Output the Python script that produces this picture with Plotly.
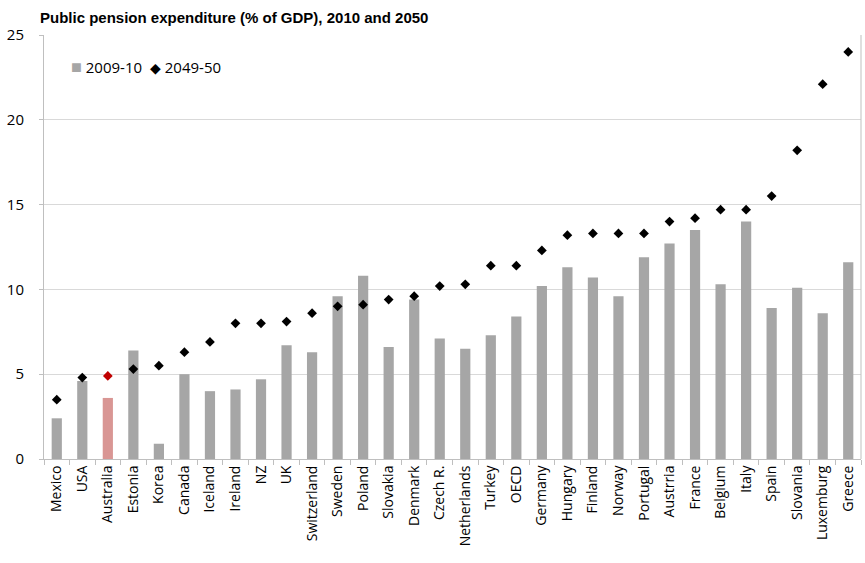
import plotly.graph_objects as go

# Countries ordered by projected 2049-50 spending
countries = ["Mexico", "USA", "Australia", "Estonia", "Korea", "Canada", "Iceland",
             "Ireland", "NZ", "UK", "Switzerland", "Sweden", "Poland", "Slovakia",
             "Denmark", "Czech R.", "Netherlands", "Turkey", "OECD", "Germany",
             "Hungary", "Finland", "Norway", "Portugal", "Austrria", "France",
             "Belgium", "Italy", "Spain", "Slovania", "Luxemburg", "Greece"]

# Public pension expenditure, % of GDP
spend_2010 = [2.4, 4.6, 3.6, 6.4, 0.9, 5.0, 4.0, 4.1, 4.7, 6.7, 6.3, 9.6, 10.8, 6.6,
              9.4, 7.1, 6.5, 7.3, 8.4, 10.2, 11.3, 10.7, 9.6, 11.9, 12.7, 13.5,
              10.3, 14.0, 8.9, 10.1, 8.6, 11.6]
spend_2050 = [3.5, 4.8, 4.9, 5.3, 5.5, 6.3, 6.9, 8.0, 8.0, 8.1, 8.6, 9.0, 9.1, 9.4,
              9.6, 10.2, 10.3, 11.4, 11.4, 12.3, 13.2, 13.3, 13.3, 13.3, 14.0, 14.2,
              14.7, 14.7, 15.5, 18.2, 22.1, 24.0]

series_names = ["2009-10", "2049-50"]

highlight = "Australia"
bar_grey = "#a6a6a6"
bar_colors = ["#d99694" if c == highlight else bar_grey for c in countries]
dot_colors = ["#c00000" if c == highlight else "#000000" for c in countries]

fig = go.Figure()
fig.add_trace(go.Bar(
    x=countries, y=spend_2010, name=series_names[0],
    marker=dict(color=bar_colors, line=dict(width=0)),
))
fig.add_trace(go.Scatter(
    x=countries, y=spend_2050, name=series_names[1], mode="markers",
    marker=dict(symbol="diamond", size=7.5, color=dot_colors, line=dict(width=0)),
))

axis_grey = "#bfbfbf"
label_font = "Open Sans"
fig.update_layout(
    width=865, height=563,
    margin=dict(l=44, r=4, t=35, b=104),
    paper_bgcolor="white", plot_bgcolor="white",
    bargap=0.6,
    showlegend=False,
    title=dict(
        text="<b>Public pension expenditure (% of GDP), 2010 and 2050</b>",
        x=40 / 865, xanchor="left", y=1 - 18 / 563, yanchor="middle",
        font=dict(family="Liberation Sans, Arial", size=15, color="black"),
    ),
    xaxis=dict(
        type="category", tickangle=-90, range=[-0.5, len(countries) - 0.5],
        tickfont=dict(family=label_font, size=14, color="black"),
        showline=True, linecolor=axis_grey, linewidth=1,
        ticks="outside", tickson="boundaries", ticklen=5, tickcolor=axis_grey,
        showgrid=False, automargin=False,
    ),
    yaxis=dict(
        range=[0, 25], dtick=5,
        tickfont=dict(family=label_font, size=15, color="black"),
        showline=True, linecolor=axis_grey, linewidth=1,
        ticks="outside", ticklen=4, tickcolor=axis_grey, ticklabelstandoff=12,
        showgrid=True, gridcolor="#d9d9d9", gridwidth=1,
        zeroline=False, automargin=False,
    ),
)

# compact key in the upper-left corner of the plot area
key_text = (f'<span style="color:{bar_grey}; font-size:18px">■</span> {series_names[0]}  '
            f'<span style="color:black; font-size:14px">◆</span> {series_names[1]}')
fig.add_annotation(
    xref="paper", yref="paper", x=0.03, y=0.928, xanchor="left", yanchor="middle",
    text=key_text, showarrow=False,
    font=dict(family=label_font, size=15, color="black"),
)

# right-hand border of the plot area
fig.add_shape(type="line", xref="paper", yref="paper", x0=1, x1=1, y0=0, y1=1,
              line=dict(color=axis_grey, width=1))

fig.write_html("out.html")
